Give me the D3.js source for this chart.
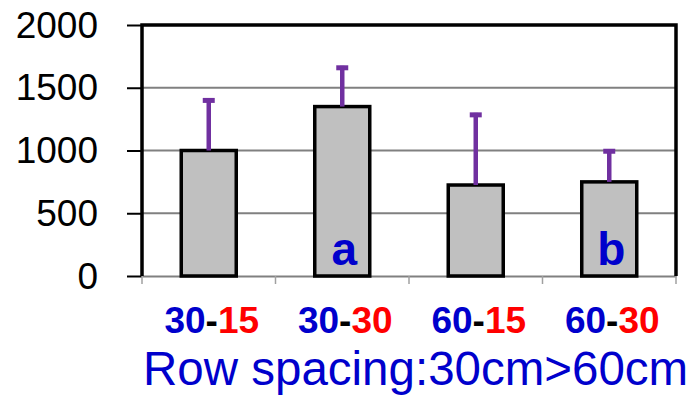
<!DOCTYPE html>
<html><head><meta charset="utf-8">
<script src="https://cdn.jsdelivr.net/npm/d3@7"></script>
<style>html,body{margin:0;padding:0;background:#fff;}svg{display:block;font-family:"Liberation Sans",Arial,sans-serif;}</style>
</head><body>
<script>
const categories = ["30-15", "30-30", "60-15", "60-30"];
const firstPart = ["30", "30", "60", "60"];
const secondPart = ["15", "30", "15", "30"];
const means = [1000, 1350, 725, 750];
const errors = [415, 325, 575, 260];
const letters = ["", "a", "", "b"];
const yTicks = [0, 500, 1000, 1500, 2000];
const xTitle = "Row spacing:30cm>60cm";

const W = 691, H = 396;
const L = 142, R = 676, T = 25, B = 276;
const blue = "#0000CC", red = "#FF0000", purple = "#7030A0";

const svg = d3.select("body").append("svg").attr("width", W).attr("height", H);

const x = d3.scaleBand().domain(categories).range([L, R]).paddingInner(0.588).paddingOuter(0.294);
const y = d3.scaleLinear().domain([0, 2000]).range([B, T]);

// gridlines
svg.append("g").selectAll("line").data(yTicks.filter(d => d > 0 && d < 2000)).join("line")
  .attr("x1", L).attr("x2", R).attr("y1", d => y(d)).attr("y2", d => y(d))
  .attr("stroke", "#808080").attr("stroke-width", 2);

// y axis ticks and labels
const yAxis = d3.axisLeft(y).tickValues(yTicks).tickSize(15).tickPadding(29).tickFormat(d3.format("d"));
const gy = svg.append("g").attr("transform", `translate(${L},0)`).call(yAxis);
gy.select(".domain").remove();
gy.selectAll(".tick line").attr("stroke", "#000").attr("stroke-width", 2);
gy.selectAll(".tick text").attr("font-size", 37).attr("fill", "#000")
  .attr("font-family", "Liberation Sans, Arial, sans-serif").attr("dy", "0.33em");

// bottom axis (gray)
const xAxis = d3.axisBottom(x).tickSize(0).tickFormat("");
const gx = svg.append("g").attr("transform", `translate(0,${B})`).call(xAxis);
gx.select(".domain").attr("stroke", "#808080").attr("stroke-width", 2);
const step = x.step();
svg.append("g").selectAll("line").data(d3.range(categories.length + 1)).join("line")
  .attr("x1", i => L + i * step).attr("x2", i => L + i * step)
  .attr("y1", B).attr("y2", B + 8).attr("stroke", "#A0A0A0").attr("stroke-width", 1.5);

// bars
svg.append("g").selectAll("rect").data(categories).join("rect")
  .attr("x", (d) => x(d)).attr("width", x.bandwidth())
  .attr("y", (d, i) => y(means[i])).attr("height", (d, i) => B - y(means[i]))
  .attr("fill", "#C0C0C0").attr("stroke", "#000").attr("stroke-width", 3.5);

// error bars
const eg = svg.append("g");
categories.forEach((c, i) => {
  const cx = x(c) + x.bandwidth() / 2;
  const top = y(means[i] + errors[i]);
  eg.append("line").attr("x1", cx).attr("x2", cx).attr("y1", y(means[i])).attr("y2", top)
    .attr("stroke", purple).attr("stroke-width", 4.5);
  eg.append("line").attr("x1", cx - 6).attr("x2", cx + 6).attr("y1", top + 2).attr("y2", top + 2)
    .attr("stroke", purple).attr("stroke-width", 5);
});

// frame: left, top, right
svg.append("path").attr("d", `M${L},${B}V${T}H${R}V${B}`).attr("fill", "none")
  .attr("stroke", "#000").attr("stroke-width", 3.5);

// letters
svg.append("g").selectAll("text").data(categories).join("text")
  .attr("x", d => x(d) + x.bandwidth() / 2 + 2).attr("y", B - 11)
  .attr("text-anchor", "middle").attr("font-size", 46).attr("font-weight", "bold").attr("fill", blue)
  .text((d, i) => letters[i]);

// x labels
const lab = svg.append("g").selectAll("text").data(categories).join("text")
  .attr("x", d => x(d) + x.bandwidth() / 2 + 3).attr("y", 333)
  .attr("text-anchor", "middle").attr("font-size", 37).attr("font-weight", "bold");
lab.append("tspan").attr("fill", blue).text((d, i) => firstPart[i]);
lab.append("tspan").attr("fill", "#000").text("-");
lab.append("tspan").attr("fill", red).text((d, i) => secondPart[i]);

// title
svg.append("text").attr("x", 143).attr("y", 385).attr("font-size", 47.5).attr("fill", blue).text(xTitle);
</script>
</body></html>
